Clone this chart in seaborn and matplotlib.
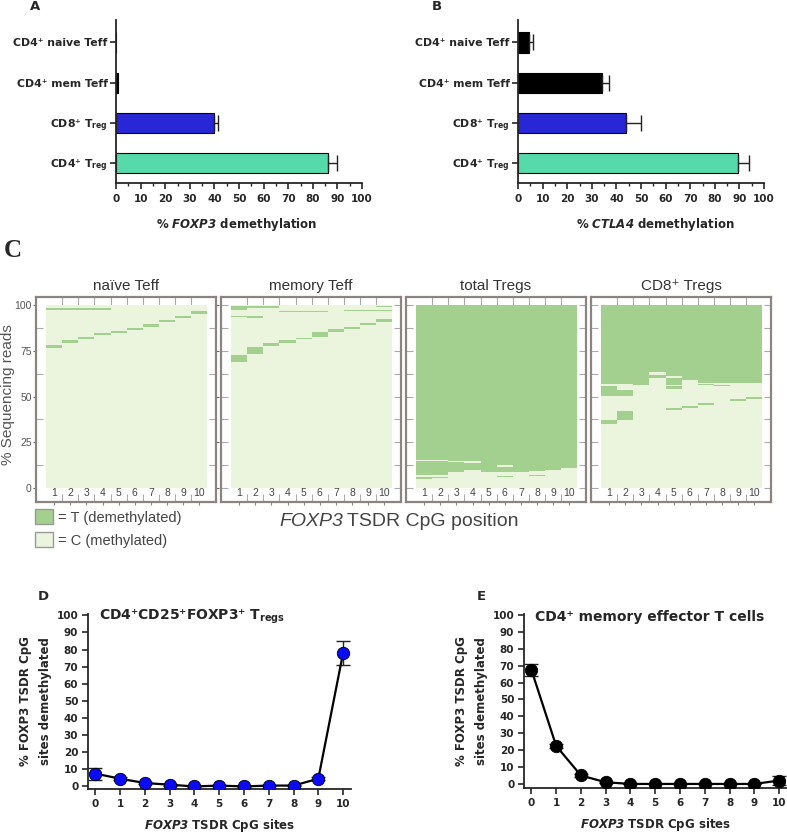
import numpy as np
import pandas as pd
import matplotlib
matplotlib.use("Agg")
import matplotlib.pyplot as plt
import seaborn as sns
from matplotlib.colors import ListedColormap
from matplotlib.patches import Patch
from matplotlib.ticker import MultipleLocator

sns.set_style("ticks")
plt.rcParams["font.family"] = ["DejaVu Sans"]
plt.rcParams["font.weight"] = "bold"
plt.rcParams["axes.labelweight"] = "bold"
plt.rcParams["mathtext.fontset"] = "custom"
plt.rcParams["mathtext.rm"] = "DejaVu Sans"
plt.rcParams["mathtext.bf"] = "DejaVu Sans:bold"
plt.rcParams["mathtext.bfit"] = "DejaVu Sans:bold:italic"

# ---------------- data ----------------
cell_types = ["CD4⁺ naive Teff", "CD4⁺ mem Teff", "CD8⁺ T$_\\mathbf{reg}$", "CD4⁺ T$_\\mathbf{reg}$"]
bar_colors = ["#000000", "#000000", "#0a0af2", "#40f0b2"]
foxp3_demeth = [0, 0.8, 40, 86]
foxp3_err = [0, 0, 1.5, 4]
ctla4_demeth = [4.5, 34, 44, 89.5]
ctla4_err = [1.5, 3, 6, 4.5]

# panel C: demethylated (T) read spans, % of reads, per CpG position 1..10
cpg_positions = list(range(1, 11))
c_titles = ["naïve Teff", "memory Teff", "total Tregs", "CD8⁺ Tregs"]
naive_T = [
    [(76.4, 78.0), (97.4, 98.2)],
    [(79.0, 80.8), (97.4, 98.2)],
    [(81.4, 82.8), (97.4, 98.2)],
    [(83.6, 84.8), (97.4, 98.2)],
    [(84.8, 86.0)],
    [(86.2, 87.4)],
    [(88.2, 89.6)],
    [(90.4, 92.0)],
    [(93.0, 94.2)],
    [(95.0, 96.4)],
]
memory_T = [
    [(68.7, 72.7), (93.2, 94.2), (97.6, 99.5)],
    [(73.2, 76.9), (92.9, 93.8), (98.6, 99.5)],
    [(77.8, 79.1), (98.6, 99.5)],
    [(79.6, 80.9), (96.0, 96.6)],
    [(81.3, 82.3), (96.0, 96.6)],
    [(82.7, 85.4), (96.2, 96.8)],
    [(85.6, 86.7), (96.4, 97.0)],
    [(87.0, 88.1), (96.6, 97.2)],
    [(88.9, 90.0), (96.8, 97.4)],
    [(90.5, 92.3), (97.0, 97.6), (98.8, 99.5)],
]
total_T = [
    [(5.1, 6.2), (7.1, 14.4), (15.3, 100)],
    [(5.2, 6.0), (7.1, 14.4), (15.3, 100)],
    [(8.4, 14.2), (15.0, 100)],
    [(9.8, 13.8), (14.6, 100)],
    [(8.9, 100)],
    [(5.8, 6.4), (8.6, 11.6), (12.8, 100)],
    [(8.9, 100)],
    [(6.6, 7.2), (9.6, 100)],
    [(9.8, 100)],
    [(10.7, 100)],
]
cd8_T = [
    [(35.3, 37.2), (50.3, 55.4), (57.0, 100)],
    [(37.2, 42.2), (50.3, 53.6), (57.0, 100)],
    [(56.6, 100)],
    [(60.2, 61.5), (63.3, 100)],
    [(42.6, 43.5), (53.9, 55.7), (56.3, 59.9), (61.2, 100)],
    [(43.9, 44.8), (59.0, 100)],
    [(45.4, 46.6), (56.2, 56.8), (57.6, 100)],
    [(55.7, 56.3), (57.6, 100)],
    [(47.4, 48.5), (55.5, 56.1), (57.6, 100)],
    [(48.8, 49.9), (57.6, 100)],
]

cpg_sites = list(range(11))
treg_pct = [7.5, 4.5, 2, 1, 0, 0.5, 0, 0.5, 0.5, 4.5, 78]
treg_sem = [3.5, 0.8, 0.5, 0.5, 0.3, 0.3, 0.3, 0.3, 0.3, 0.8, 7]
memteff_pct = [67.5, 22.5, 5, 1, 0, 0, 0, 0, 0, 0, 2]
memteff_sem = [3.5, 1, 0.8, 0.3, 0.2, 0.2, 0.2, 0.2, 0.2, 0.2, 2.5]

T_GREEN = "#a3cf8f"
C_GREEN = "#ebf4dd"
FRAME = "#8c8480"
C_FONT = ["Liberation Sans", "DejaVu Sans"]

W, H = 787, 833
fig = plt.figure(figsize=(W / 100, H / 100), dpi=100)


def px_axes(x0, y_top, x1, y_bot):
    return fig.add_axes([x0 / W, 1 - y_bot / H, (x1 - x0) / W, (y_bot - y_top) / H])


# ---------------- A / B bar panels ----------------
def bar_panel(ax, values, errs, gene, label_x):
    df = pd.DataFrame({"cell": cell_types, "pct": values})
    sns.barplot(data=df, x="pct", y="cell", hue="cell", palette=bar_colors, orient="h",
                width=0.5, edgecolor="black", linewidth=0.8, legend=False, ax=ax)
    idx = [i for i, e in enumerate(errs) if e > 0]
    ax.errorbar([values[i] for i in idx], idx, xerr=[[0] * len(idx), [errs[i] for i in idx]],
                fmt="none", ecolor="#222222", elinewidth=1, capsize=6, capthick=1)
    ax.set_xlim(0, 100)
    ax.set_ylim(3.5, -0.56)
    ax.xaxis.set_major_locator(MultipleLocator(10))
    ax.xaxis.set_minor_locator(MultipleLocator(5))
    sns.despine(ax=ax)
    for s in ("left", "bottom"):
        ax.spines[s].set_linewidth(1.3)
    ax.tick_params(which="major", length=4, width=1.2, labelsize=7.5, pad=4)
    ax.tick_params(which="minor", length=2.5, width=1)
    ax.tick_params(axis="y", labelsize=7.8, pad=2)
    ax.set_ylabel("")
    ax.set_xlabel("% $\\mathbfit{" + gene + "}$ demethylation", fontsize=8.5)
    ax.xaxis.set_label_coords(label_x, -0.2)


axA = px_axes(116, 20, 362, 183)
bar_panel(axA, foxp3_demeth, foxp3_err, "FOXP3", 0.49)
axB = px_axes(518, 20, 764, 183)
bar_panel(axB, ctla4_demeth, ctla4_err, "CTLA4", 0.56)
fig.text(30 / W, 1 - 7 / H, "A", fontsize=9.5, va="center")
fig.text(432 / W, 1 - 7 / H, "B", fontsize=9.5, va="center")

# ---------------- C methylation read panels ----------------
bin_size = 0.25
row_centers = 100 - (np.arange(int(100 / bin_size)) + 0.5) * bin_size


def read_matrix(spans_per_pos):
    mat = np.zeros((len(row_centers), len(cpg_positions)))
    for j, spans in enumerate(spans_per_pos):
        for lo, hi in spans:
            mat[(row_centers >= lo) & (row_centers < hi), j] = 1
    return pd.DataFrame(mat, columns=cpg_positions)


def to_row(p):
    return (100 - p) / bin_size


cmap = ListedColormap([C_GREEN, T_GREEN])
c_sets = [naive_T, memory_T, total_T, cd8_T]
c_lefts = [36, 221, 406, 591]
for i, (spans, title) in enumerate(zip(c_sets, c_titles)):
    ax = px_axes(c_lefts[i], 297, c_lefts[i] + 180, 502)
    sns.heatmap(read_matrix(spans), cmap=cmap, vmin=0, vmax=1, cbar=False, ax=ax,
                xticklabels=False, yticklabels=False, rasterized=True)
    ax.set_xlim(-0.625, 10.53)
    ax.set_ylim(to_row(-7.65), to_row(104.4))
    for s in ax.spines.values():
        s.set_visible(True)
        s.set_color(FRAME)
        s.set_linewidth(1.6)
    ax.set_xticks(np.arange(10) + 0.5, labels=[str(p) for p in cpg_positions],
                  fontsize=7.5, color="#444444", family=C_FONT, fontweight="normal")
    ax.set_xticks(np.arange(1, 10), minor=True)
    major_y = [to_row(p) for p in (0, 25, 50, 75, 100)]
    if i == 0:
        ax.set_yticks(major_y, labels=["0", "25", "50", "75", "100"], fontsize=7.5,
                      color="#555555", family=C_FONT, fontweight="normal")
    else:
        ax.set_yticks(major_y, labels=[])
    ax.set_yticks([to_row(p) for p in np.arange(12.5, 100, 25)], minor=True)
    ax.tick_params(axis="x", which="major", direction="out", length=2, width=0.8,
                   color="#888888", pad=-12, bottom=True, top=False)
    ax.tick_params(axis="x", which="minor", direction="in", length=6, width=0.8,
                   color="#aaaaaa", bottom=True, top=True)
    ax.tick_params(axis="y", which="both", direction="in", length=5, width=0.8,
                   color="#aaaaaa", left=True, right=True)
    if i == 0:
        ax.tick_params(axis="y", which="major", direction="out", length=2.5, pad=0.5,
                       color="#666666")
    ax.set_xlabel("")
    ax.set_ylabel("")
    ax.set_title(title, fontsize=11, color="#333333", family=C_FONT, fontweight="normal", pad=5)

fig.text(4 / W, 1 - 257 / H, "C", fontsize=18, family=["Liberation Serif", "DejaVu Serif"],
         fontweight="bold", va="baseline")
fig.text(8 / W, 1 - 395 / H, "% Sequencing reads", rotation=90, va="center", ha="center",
         fontsize=11, color="#555555", family=C_FONT, fontweight="normal")
fig.text(343 / W, 1 - 521 / H, "FOXP3", ha="right", va="center", fontsize=14, color="#444444",
         family=C_FONT, fontweight="normal", fontstyle="italic")
fig.text(347 / W, 1 - 521 / H, "TSDR CpG position", ha="left", va="center", fontsize=14,
         color="#444444", family=C_FONT, fontweight="normal")
fig.legend(handles=[Patch(fc=T_GREEN, ec="#999999"), Patch(fc=C_GREEN, ec="#999999")],
           labels=["= T (demethylated)", "= C (methylated)"], loc="upper left",
           bbox_to_anchor=(35 / W, 1 - 509 / H), frameon=False, borderaxespad=0, borderpad=0,
           handlelength=1.25, handleheight=1.25, handletextpad=0.3, labelspacing=0.5,
           prop={"family": C_FONT, "size": 10.5, "weight": "normal"}, labelcolor="#444444")


# ---------------- D / E line panels ----------------
def line_panel(ax, pct, sem, face, title, ylim):
    df = pd.DataFrame({"site": cpg_sites, "pct": pct})
    ax.errorbar(cpg_sites, pct, yerr=sem, fmt="none", ecolor="#222222", elinewidth=1,
                capsize=5, capthick=1, zorder=1)
    sns.lineplot(data=df, x="site", y="pct", color="black", lw=1.6, ax=ax, zorder=2)
    sns.scatterplot(data=df, x="site", y="pct", color=face, s=80, edgecolor="black",
                    linewidth=0.6, ax=ax, zorder=3)
    ax.set_xlim(-0.3, 10.32)
    ax.set_ylim(*ylim)
    ax.set_xticks(cpg_sites)
    ax.set_yticks(range(0, 101, 10))
    sns.despine(ax=ax)
    for s in ("left", "bottom"):
        ax.spines[s].set_linewidth(1.3)
    ax.tick_params(length=4, width=1.2, labelsize=7.5, pad=3)
    ax.set_xlabel("$\\mathbfit{FOXP3}$ TSDR CpG sites", fontsize=8.5, labelpad=6)
    ax.set_ylabel("% FOXP3 TSDR CpG\nsites demethylated", fontsize=8.5, linespacing=1.75)
    ax.yaxis.set_label_coords(-0.135, 0.5)
    ax.text(0.042, 0.985, title, transform=ax.transAxes, ha="left", va="center", fontsize=10)


axD = px_axes(88, 614, 351, 789)
line_panel(axD, treg_pct, treg_sem, "#0a0af5", "CD4⁺CD25⁺FOXP3⁺ T$_\\mathbf{regs}$", (-1.5, 100.8))
axE = px_axes(524, 614, 787, 788)
line_panel(axE, memteff_pct, memteff_sem, "black", "CD4⁺ memory effector T cells", (-2.4, 100.6))
fig.text(43.5 / W, 1 - 597 / H, "D", fontsize=9.5, va="center", ha="center")
fig.text(481.5 / W, 1 - 597 / H, "E", fontsize=9.5, va="center", ha="center")

fig.savefig("out.png", dpi=100)
